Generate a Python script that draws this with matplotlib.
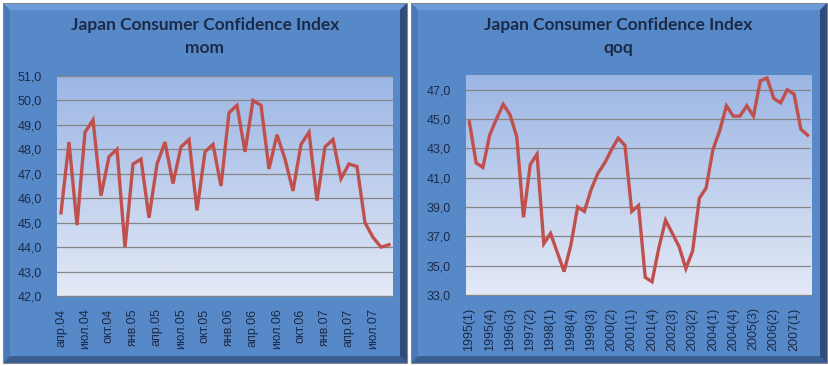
import numpy as np
import matplotlib
matplotlib.use('Agg')
import matplotlib.pyplot as plt
from matplotlib.patches import Polygon, Rectangle

W, H = 829, 366

# monthly series, Apr 2004 .. Sep 2007
mom_values = [45.4, 48.3, 44.9, 48.7, 49.2, 46.1, 47.7, 48.0, 44.0, 47.4,
              47.6, 45.2, 47.4, 48.3, 46.6, 48.1, 48.4, 45.5, 47.9, 48.2,
              46.5, 49.5, 49.8, 47.9, 50.0, 49.8, 47.2, 48.6, 47.6, 46.3,
              48.2, 48.7, 45.9, 48.1, 48.4, 46.8, 47.4, 47.3, 45.0, 44.4,
              44.0, 44.1]
months_ru = ['янв', 'фев', 'мар', 'апр', 'май', 'июн',
             'июл', 'авг', 'сен', 'окт', 'ноя', 'дек']
mom_labels = []
for i in range(len(mom_values)):
    m = (3 + i) % 12
    y = 4 + (3 + i) // 12
    mom_labels.append(f'{months_ru[m]}.{y:02d}')

# quarterly series, 1995(1) .. 2007(3)
qoq_values = [44.8, 42.0, 41.7, 43.9, 45.0, 46.0, 45.3, 43.8, 38.3, 41.9,
              42.6, 36.5, 37.2, 35.9, 34.6, 36.4, 39.0, 38.7, 40.2, 41.3,
              42.0, 42.9, 43.7, 43.2, 38.7, 39.1, 34.2, 33.9, 36.2, 38.1,
              37.2, 36.3, 34.8, 36.0, 39.6, 40.3, 42.9, 44.2, 45.9, 45.2,
              45.2, 45.9, 45.2, 47.6, 47.8, 46.4, 46.1, 47.0, 46.7, 44.3,
              43.9]
qoq_labels = [f'{1995 + i // 4}({i % 4 + 1})' for i in range(len(qoq_values))]

TEXT = '#1B2A47'
LINE = '#C0504D'

fig = plt.figure(figsize=(W / 100, H / 100), dpi=100)
fig.patch.set_facecolor('white')


def fx(x):
    return x / W


def fy(y):
    return 1 - y / H


def panel(x0, y0, x1, y1, b=7):
    # beveled blue frame behind each chart
    def poly(pts, color):
        fig.patches.append(Polygon([(fx(a), fy(c)) for a, c in pts], closed=True,
                                   transform=fig.transFigure, facecolor=color,
                                   edgecolor='none', zorder=-5))
    poly([(x0, y0), (x1, y0), (x1, y1), (x0, y1)], '#5789C9')
    poly([(x0, y0), (x1, y0), (x1 - b, y0 + b), (x0 + b, y0 + b)], '#6C9BD8')
    poly([(x0, y0), (x0 + b, y0 + b), (x0 + b, y1 - b), (x0, y1)], '#4A79B6')
    poly([(x0, y1), (x1, y1), (x1 - b, y1 - b), (x0 + b, y1 - b)], '#3A5E90')
    poly([(x1, y0), (x1 - b, y0 + b), (x1 - b, y1 - b), (x1, y1)], '#2F4D7A')
    fig.patches.append(Rectangle((fx(x0), fy(y1)), fx(x1 - x0), (y1 - y0) / H,
                                 transform=fig.transFigure, facecolor='none',
                                 edgecolor='#7F8A99', lw=0.8, zorder=-4))


panel(3, 3, 407, 363)
panel(411, 3, 827, 363)

grad = np.linspace(0, 1, 256).reshape(-1, 1)
cmap = matplotlib.colors.LinearSegmentedColormap.from_list('pa', ['#E3E9F6', '#9CB6E4'])


def chart(px0, py0, px1, py1, values, labels, ymin, ymax, ystep, ytop, subtitle, cx):
    ax = fig.add_axes([fx(px0), fy(py1), (px1 - px0) / W, (py1 - py0) / H])
    n = len(values)
    ax.set_xlim(-0.5, n - 0.5)
    ax.set_ylim(ymin, ytop)
    ax.imshow(grad, cmap=cmap, origin='lower', aspect='auto',
              extent=[-0.5, n - 0.5, ymin, ytop], zorder=0)
    ax.plot(range(n), values, color=LINE, lw=2.4, solid_joinstyle='miter', zorder=3)
    yt = np.arange(ymin, ymax + 0.01, ystep)
    ax.set_yticks(yt)
    ax.set_yticklabels([f'{v:.1f}'.replace('.', ',') for v in yt])
    ax.yaxis.grid(True, color='#868686', lw=0.9)
    ax.set_axisbelow(True)
    xt = list(range(0, n, 3))
    ax.set_xticks(xt)
    ax.set_xticklabels([labels[i] for i in xt], rotation=90, va='top', ha='center')
    for s in ['top', 'left', 'right']:
        ax.spines[s].set_visible(False)
    ax.spines['bottom'].set_color('#868686')
    ax.tick_params(length=0, labelsize=9, colors=TEXT, pad=9)
    ax.tick_params(axis='y', pad=11)
    ax.set_facecolor('none')
    for t in ax.get_xticklabels() + ax.get_yticklabels():
        t.set_fontfamily('Liberation Sans')
    fig.text(fx(cx), fy(25), 'Japan Consumer Confidence Index', ha='center', va='center',
             fontsize=12.5, fontweight='bold', color=TEXT, family='Lato')
    fig.text(fx(cx), fy(48), subtitle, ha='center', va='center',
             fontsize=12.5, fontweight='bold', color=TEXT, family='Lato')
    return ax


chart(57, 76, 393, 296, mom_values, mom_labels, 42, 51, 1, 51, 'mom', 205)
chart(466, 75, 811, 295, qoq_values, qoq_labels, 33, 47, 2, 48, 'qoq', 618)

fig.savefig('out.png', dpi=100, facecolor='white')
